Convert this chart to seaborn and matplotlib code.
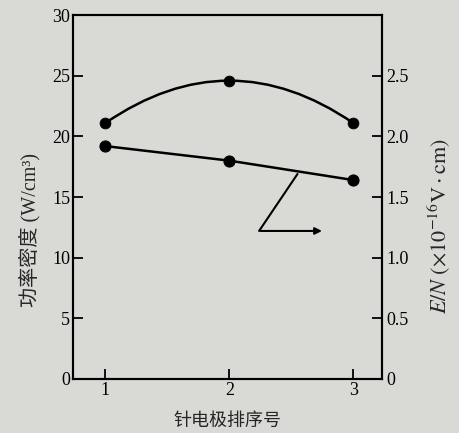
import numpy as np
import pandas as pd
import matplotlib
matplotlib.use('Agg')
import matplotlib.pyplot as plt
from matplotlib.path import Path
from matplotlib.patches import PathPatch
import seaborn as sns

# datos
electrodo = [1, 2, 3]
potencia = [21.1, 24.6, 21.1]      # W/cm3, eje izquierdo
campo_en = [1.92, 1.80, 1.64]      # E/N x 1e-16 V.cm, eje derecho
ticks_izq = [0, 5, 10, 15, 20, 25, 30]
ticks_der = [0, 0.5, 1.0, 1.5, 2.0, 2.5]

sns.set_theme(style='ticks')
plt.rcParams['font.family'] = ['Liberation Serif', 'Noto Sans CJK SC']
plt.rcParams['mathtext.fontset'] = 'stix'
plt.rcParams['axes.unicode_minus'] = False

fondo = '#d9d9d6'
fig = plt.figure(figsize=(4.6, 4.33), dpi=100, facecolor=fondo)
ax = fig.add_axes([0.159, 0.125, 0.671, 0.840])
ax.set_facecolor(fondo)
ax2 = ax.twinx()

df = pd.DataFrame({'n': electrodo, 'p': potencia, 'e': campo_en})

# curva superior: arco suave por los tres puntos (Bezier cuadrática)
p0 = np.array([df.n[0], df.p[0]])
p1 = np.array([df.n[1], df.p[1]])
p2 = np.array([df.n[2], df.p[2]])
ctrl = 2 * p1 - 0.5 * (p0 + p2)
arco = Path([p0, ctrl, p2], [Path.MOVETO, Path.CURVE3, Path.CURVE3])
ax.add_patch(PathPatch(arco, facecolor='none', edgecolor='black', lw=1.8))
sns.scatterplot(data=df, x='n', y='p', ax=ax, color='black', s=60,
                edgecolor='black', zorder=5, legend=False)

# recta inferior en el eje derecho
sns.lineplot(data=df, x='n', y='e', ax=ax2, color='black', lw=1.8,
             marker='o', markersize=8, markeredgecolor='black', legend=False)

ax.set_xlim(0.74, 3.23)
ax.set_ylim(0, 30)
ax2.set_ylim(0, 3.0)
ax.set_xticks(electrodo)
ax.set_yticks(ticks_izq)
ax2.set_yticks(ticks_der)
ax2.set_yticklabels(['0'] + [f'{t:.1f}' for t in ticks_der[1:]])

for a in (ax, ax2):
    for s in a.spines.values():
        s.set_linewidth(1.5)
        s.set_color('black')
    a.tick_params(direction='in', length=7, width=1.3, labelsize=13,
                  colors='black', pad=3)
ax.tick_params(axis='y', pad=2)
ax.tick_params(axis='x', pad=2)

ax.set_xlabel('针电极排序号', fontsize=13, labelpad=10)
ax.set_ylabel('功率密度 (W/cm³)', fontsize=14.5)
ax2.set_ylabel(r'$E/N\ (\times 10^{-16}\mathrm{V\cdot cm})$', fontsize=16)
ax.yaxis.set_label_coords(-0.105, 0.41)
ax2.yaxis.set_label_coords(1.14, 0.42)

# flecha indicando el eje derecho
ax.plot([2.55, 2.24], [16.9, 12.2], color='black', lw=1.5)
ax.annotate('', xy=(2.77, 12.2), xytext=(2.23, 12.2),
            arrowprops=dict(arrowstyle='-|>', color='black', lw=1.5,
                            mutation_scale=10))

fig.savefig('out.png', dpi=100, facecolor=fondo)
